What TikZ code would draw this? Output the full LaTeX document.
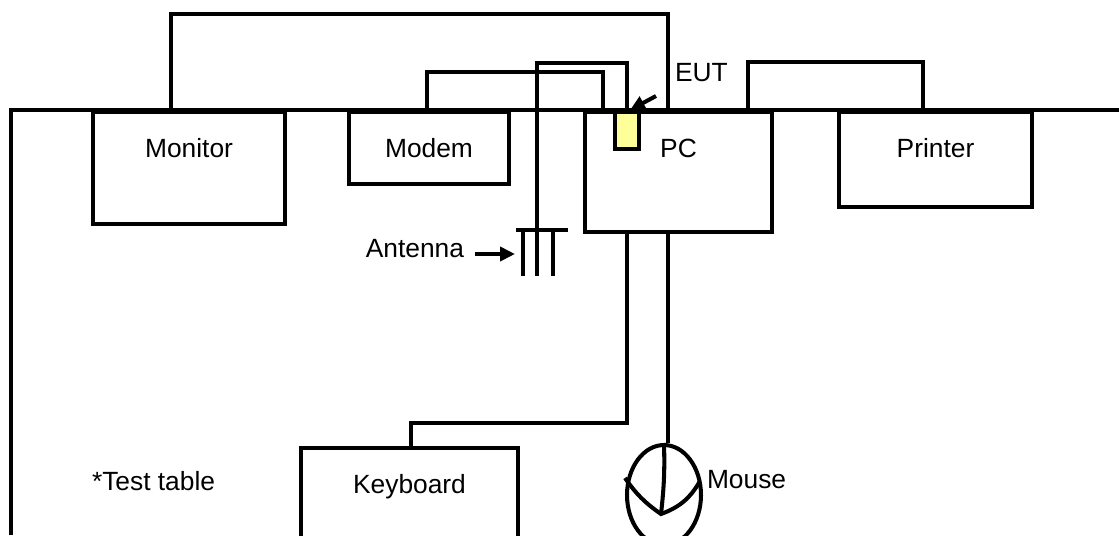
\documentclass[tikz,border=0pt]{standalone}
\usepackage{fontspec}
\setmainfont{Liberation Sans}
\usetikzlibrary{positioning,shapes.geometric,arrows.meta}
\definecolor{eutyellow}{RGB}{255,255,153}

\begin{document}
\begin{tikzpicture}[x=0.02cm, y=-0.02cm, line width=2.3pt,
    font=\fontsize{15}{18}\selectfont,
    box/.style={draw, anchor=north west, inner sep=0pt, text height=0.9cm},
    lbl/.style={inner sep=0pt},
    pointer/.style={-{Triangle[length=0.3cm,width=0.28cm]}, line width=2.3pt}]
	\useasboundingbox (0,0) rectangle (1119,535);
	\clip (0,0) rectangle (1119,535);
	% test table
	\draw (11,535) -- (11,110) -- (1119,110);
	\node[lbl, anchor=base west] (table) at (90,490) {*Test table};
	% devices on the table
	\node[box, minimum width=3.84cm, text depth=1.34cm] (monitor) at (91,110) {Monitor};
	\node[box, minimum width=3.2cm, text depth=0.54cm] (modem) at (347,110) {Modem};
	\node[box, minimum width=3.74cm, text depth=1.5cm] (pc) at (583,110) {PC};
	\node[box, minimum width=3.86cm, text depth=1.0cm] (printer) at (837,110) {Printer};
	\node[box, minimum width=4.34cm, text depth=1.6cm] (keyboard) at (299,446) {Keyboard};
	\node[draw, fill=eutyellow, anchor=north, minimum width=0.48cm, minimum height=0.74cm, inner sep=0pt] (eut) at (627,110) {};
	\node[draw, ellipse, minimum width=1.48cm, minimum height=2cm, inner sep=0pt] (mouse) at (664,495) {};
	% cable ends
	\coordinate (monport) at (171,110);
	\coordinate (pcmon) at (668,110);
	\coordinate (modport) at (427,110);
	\coordinate (pcmod) at (603,110);
	\coordinate (pcprn) at (748,110);
	\coordinate (prnport) at (923,110);
	\coordinate (pckbd) at (627,230);
	\coordinate (pcmouse) at (668,230);
	\coordinate (kbdport) at (411,446);
	\coordinate (ant) at (537,230);
	% cables
	\draw (monport) -- (monport |- 0,14) -| (pcmon);
	\draw (modport) -- (modport |- 0,72) -| (pcmod);
	\draw (ant) -- (ant |- 0,63) -| (eut.north);
	\draw (pcprn) -- (pcprn |- 0,62) -| (prnport);
	\draw (pckbd) -- (pckbd |- 0,423) -| (kbdport);
	\draw (pcmouse) -- (pcmouse |- mouse.north);
	% antenna
	\draw (516,230) -- (568,230);
	\draw (523,230) -- (523,276) (ant) -- (537,276) (553,230) -- (553,276);
	\node[lbl, anchor=base east] (antlbl) at (466,257) {Antenna};
	\draw[pointer] (475,254) -- (515,254);
	% EUT marker
	\node[lbl, anchor=base west] (eutlbl) at (673,81) {EUT};
	\draw[pointer] (656,96) -- (630,110);
	% mouse
	\draw (mouse.north) to[bend left=4] (661,514);
	\draw (625,478) to[bend right=10] (661,514) to[bend right=20] (700,481);
	\node[lbl, anchor=base west] (mouselbl) at (705,488) {Mouse};
\end{tikzpicture}
\end{document}
